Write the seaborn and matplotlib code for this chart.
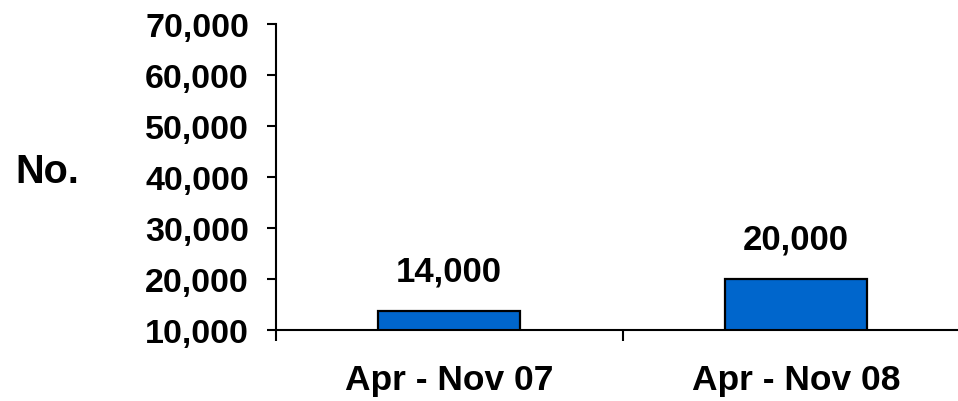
import matplotlib
matplotlib.use("Agg")
import matplotlib.pyplot as plt
import seaborn as sns
import pandas as pd
from matplotlib.ticker import FuncFormatter, FixedLocator

periods = ["Apr - Nov 07", "Apr - Nov 08"]
counts = [13700, 20000]
value_labels = ["14,000", "20,000"]
y_ticks = [10000, 20000, 30000, 40000, 50000, 60000, 70000]

sns.set_style("ticks")
plt.rcParams["font.family"] = ["Liberation Sans", "DejaVu Sans"]
plt.rcParams["font.weight"] = "bold"
plt.rcParams["text.color"] = "black"
plt.rcParams["xtick.color"] = "black"
plt.rcParams["ytick.color"] = "black"
plt.rcParams["axes.labelcolor"] = "black"

df = pd.DataFrame({"period": periods, "count": counts})

fig = plt.figure(figsize=(9.58, 4.02), dpi=100)
ax = fig.add_axes([276 / 958, 1 - 331 / 402, (969 - 276) / 958, (331 - 25) / 402])

sns.barplot(data=df, x="period", y="count", ax=ax, color="#0066CC",
            edgecolor="black", linewidth=1.6, width=0.41, saturation=1)

ax.set_ylim(10000, 70000)
ax.set_xlim(-0.5, 1.5)
ax.yaxis.set_major_locator(FixedLocator(y_ticks))
ax.yaxis.set_major_formatter(FuncFormatter(lambda v, p: f"{int(v):,}"))

for i, (v, lab) in enumerate(zip(counts, value_labels)):
    ax.annotate(lab, xy=(i, v), xytext=(0, 22), textcoords="offset points",
                ha="center", va="baseline", fontsize=25, fontweight="bold",
                color="black")

ax.set_xlabel("")
ax.set_ylabel("")
for s in ["top", "right"]:
    ax.spines[s].set_visible(False)
for s in ["left", "bottom"]:
    ax.spines[s].set_linewidth(1.5)
    ax.spines[s].set_color("black")

ax.tick_params(axis="y", direction="out", length=6.5, width=1.5, pad=13,
               labelsize=24.5, colors="black")
ax.tick_params(axis="x", which="major", length=0, pad=24, labelsize=25.5,
               colors="black")
ax.xaxis.set_minor_locator(FixedLocator([-0.5, 0.5, 1.5]))
ax.tick_params(axis="x", which="minor", direction="out", length=8, width=1.5,
               colors="black")
for t in ax.get_xticklabels() + ax.get_yticklabels():
    t.set_fontweight("bold")

fig.text(15 / 958, 1 - 172 / 402, "No.", fontsize=28.5, fontweight="bold",
         ha="left", va="center", color="black")

fig.savefig("out.png", dpi=100)
